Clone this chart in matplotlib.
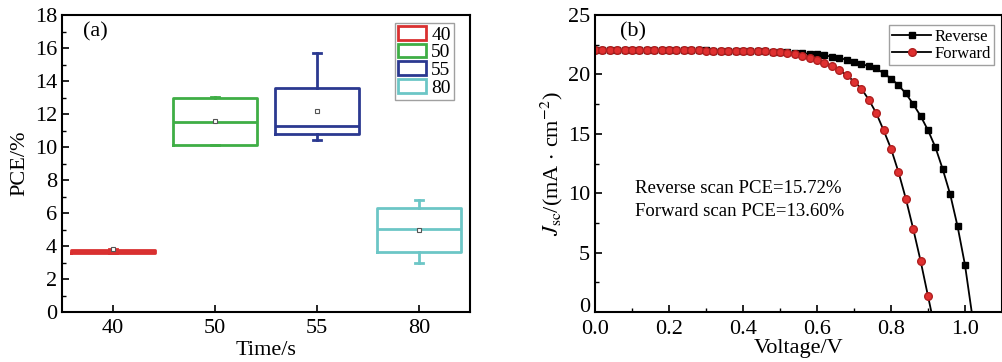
import numpy as np
import matplotlib
matplotlib.use("Agg")
import matplotlib.pyplot as plt
from matplotlib.patches import Patch
from matplotlib.ticker import MultipleLocator, FormatStrFormatter

plt.rcParams['font.family'] = ['Liberation Serif', 'DejaVu Serif']
plt.rcParams['mathtext.fontset'] = 'stix'

''' data: (a) PCE box plot '''
times = ["40", "50", "55", "80"]
q1 = [3.55, 10.1, 10.8, 3.65]
median = [3.65, 11.5, 11.3, 5.05]
q3 = [3.75, 13.0, 13.6, 6.3]
whis_lo = [3.55, 10.15, 10.45, 3.0]
whis_hi = [3.8, 13.05, 15.7, 6.8]
means = [3.8, 11.55, 12.2, 4.95]
box_colors = ["#d93030", "#3fae45", "#2b3990", "#6cc6c6"]

''' data: (b) J-V curves, one point every 0.02 V starting at 0 V '''
j_rev = [22.08, 22.08, 22.07, 22.07, 22.07, 22.06, 22.06, 22.06, 22.05, 22.05,
         22.05, 22.04, 22.04, 22.03, 22.03, 22.02, 22.01, 22.0, 21.99, 21.98,
         21.97, 21.96, 21.95, 21.93, 21.91, 21.89, 21.86, 21.83, 21.79, 21.74,
         21.68, 21.6, 21.5, 21.38, 21.24, 21.07, 20.88, 20.7, 20.5, 20.1,
         19.65, 19.1, 18.4, 17.5, 16.5, 15.3, 13.87, 12.0, 9.9, 7.2,
         3.95, -0.4]
j_fwd = [22.08, 22.08, 22.07, 22.07, 22.07, 22.06, 22.06, 22.05, 22.05, 22.04,
         22.04, 22.03, 22.03, 22.02, 22.02, 22.01, 22.01, 22.0, 22.0, 21.99,
         21.99, 21.98, 21.97, 21.94, 21.9, 21.85, 21.78, 21.68, 21.55, 21.4,
         21.2, 20.98, 20.7, 20.36, 19.95, 19.4, 18.8, 17.87, 16.75, 15.3,
         13.75, 11.8, 9.55, 7.0, 4.3, 1.34, -1.6]
v_rev = np.round(np.arange(len(j_rev)) * 0.02, 2)
v_fwd = np.round(np.arange(len(j_fwd)) * 0.02, 2)

fig = plt.figure(figsize=(10.03, 3.62), dpi=100)

''' (a) '''
ax1 = fig.add_axes([62 / 1003, 1 - 312 / 362, 408 / 1003, 297 / 362])
for i in range(len(times)):
    stats = [{"med": median[i], "q1": q1[i], "q3": q3[i],
              "whislo": whis_lo[i], "whishi": whis_hi[i], "mean": means[i]}]
    c = box_colors[i]
    ax1.bxp(stats, positions=[i + 1], widths=0.82, capwidths=0.08,
            showmeans=True, showfliers=False,
            boxprops=dict(color=c, lw=2),
            medianprops=dict(color=c, lw=2),
            whiskerprops=dict(color=c, lw=2),
            capprops=dict(color=c, lw=2),
            meanprops=dict(marker='s', markersize=3, markerfacecolor='white',
                           markeredgecolor='#555555', markeredgewidth=0.8))
ax1.set_xlim(0.5, 4.5)
ax1.set_ylim(0, 18)
ax1.set_xticks(range(1, 5))
ax1.set_xticklabels(times)
ax1.yaxis.set_major_locator(MultipleLocator(2))
ax1.yaxis.set_minor_locator(MultipleLocator(1))
ax1.tick_params(direction='in', labelsize=16, length=5, width=1.2)
ax1.tick_params(axis='x', pad=5)
ax1.tick_params(which='minor', direction='in', length=3, width=1)
ax1.set_xlabel("Time/s", fontsize=16, labelpad=2)
ax1.set_ylabel("PCE/%", fontsize=16, labelpad=4)
for s in ax1.spines.values():
    s.set_linewidth(1.5)
ax1.text(0.052, 0.975, "(a)", transform=ax1.transAxes, fontsize=16, va='top')
handles = [Patch(facecolor='white', edgecolor=c, lw=2, label=t)
           for c, t in zip(box_colors, times)]
leg1 = ax1.legend(handles=handles, loc='upper right', fontsize=14,
                  fancybox=False, edgecolor='#888888', handlelength=1.45,
                  handleheight=0.7, labelspacing=0.0, handletextpad=0.25,
                  borderpad=0.15, borderaxespad=0, bbox_to_anchor=(0.96, 0.972))
leg1.get_frame().set_linewidth(1)

''' (b) '''
ax2 = fig.add_axes([595 / 1003, 1 - 312 / 362, 407 / 1003, 297 / 362])
ax2.plot(v_rev, j_rev, color='black', lw=1.3, marker='s', markersize=5,
         markerfacecolor='black', markeredgecolor='black', label='Reverse')
ax2.plot(v_fwd, j_fwd, color='black', lw=1.3, marker='o', markersize=5.5,
         markerfacecolor='#e03030', markeredgecolor='#b02020', label='Forward')
ax2.set_xlim(0, 1.1)
ax2.set_ylim(0, 25)
ax2.set_xticks(np.arange(0, 1.01, 0.2))
ax2.set_yticks(np.arange(0, 26, 5))
ax2.xaxis.set_minor_locator(MultipleLocator(0.1))
ax2.yaxis.set_minor_locator(MultipleLocator(2.5))
ax2.xaxis.set_major_formatter(FormatStrFormatter('%.1f'))
ax2.tick_params(direction='in', labelsize=16, length=5, width=1.2)
ax2.tick_params(axis='x', pad=6)
ax2.tick_params(which='minor', direction='in', length=3, width=1)
# lift the "0" on the y axis so it does not run into "0.0"
ax2.yaxis.get_major_ticks()[0].label1.set_verticalalignment('baseline')
ax2.set_xlabel("Voltage/V", fontsize=16, labelpad=0)
ax2.set_ylabel(r"$J_{\rm sc}$/(mA$\,\cdot\,$cm$^{-2}$)", fontsize=16, labelpad=2)
for s in ax2.spines.values():
    s.set_linewidth(1.5)
ax2.text(0.062, 0.975, "(b)", transform=ax2.transAxes, fontsize=16, va='top')
ax2.text(0.108, 9.4, "Reverse scan PCE=15.72%\nForward scan PCE=13.60%",
         fontsize=13.5, va='center', linespacing=1.45)
leg2 = ax2.legend(loc='upper right', fontsize=12, fancybox=False,
                  edgecolor='#888888', handlelength=2.3, labelspacing=0.05,
                  handletextpad=0.2, borderpad=0.2, borderaxespad=0,
                  bbox_to_anchor=(0.98, 0.965))
leg2.get_frame().set_linewidth(1)

fig.savefig("out.png", dpi=100)
